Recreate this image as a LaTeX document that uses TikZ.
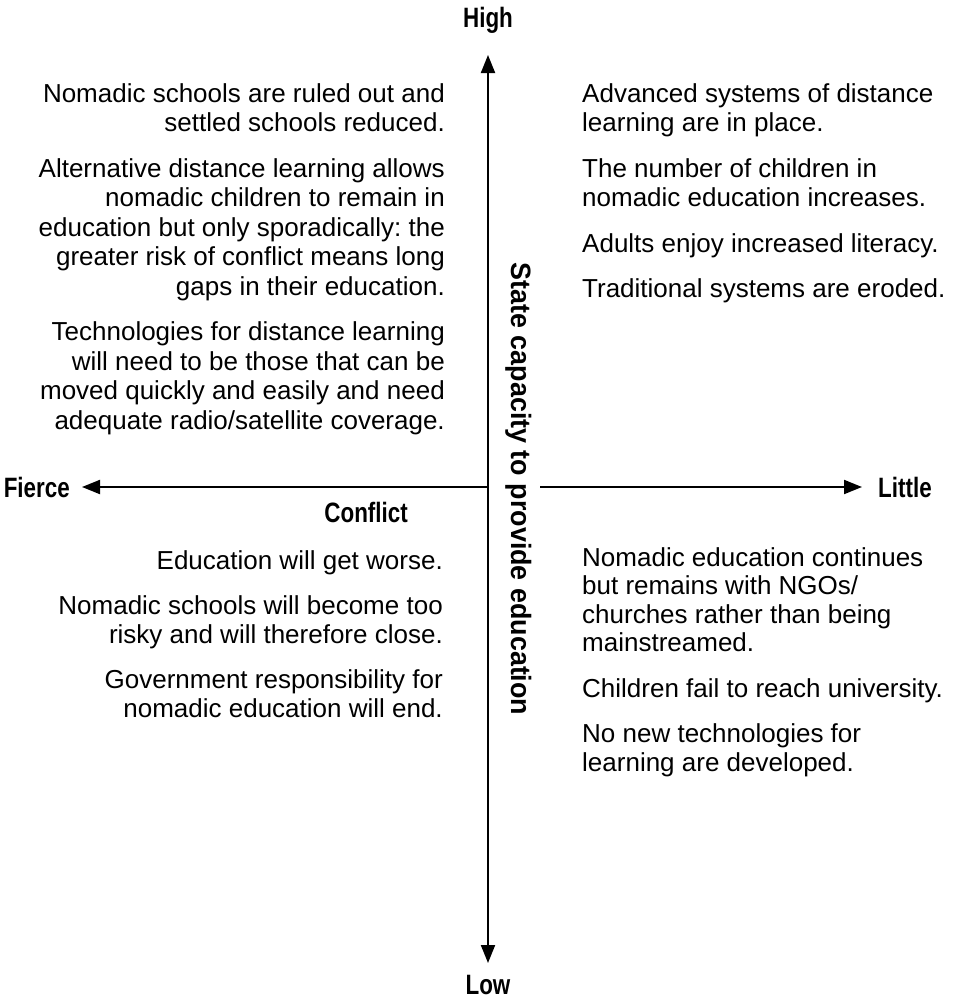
\documentclass[tikz,border=0pt]{standalone}
\usepackage{fontspec}
\setmainfont{Liberation Sans}
\newfontfamily\polefont{Liberation Sans}[FakeStretch=0.8]
\newfontfamily\capfont{Liberation Sans}[FakeStretch=0.96]
\usetikzlibrary{arrows.meta}
\frenchspacing

\begin{document}
\begin{tikzpicture}[x=1pt, y=-1pt]
	\tikzstyle{axis}=[line width=2pt, -{Triangle[length=18pt, width=14pt]}]
	\tikzstyle{pole}=[font=\polefont\bfseries\fontsize{28}{30}\selectfont, inner sep=0pt]
	\tikzstyle{upper}=[font=\fontsize{26}{29.5}\selectfont, inner sep=0pt]
	\tikzstyle{lower}=[font=\fontsize{26}{28.5}\selectfont, inner sep=0pt]

	\useasboundingbox (0, 0) rectangle (955, 999);

	\coordinate (c) at (488, 487);
	\coordinate (n) at (488, 55);
	\coordinate (s) at (488, 963);
	\coordinate (w) at (82, 487);
	\coordinate (e0) at (540, 487);
	\coordinate (e) at (862, 487);

	\draw node[pole, anchor=base] at (488, 27) (high) {High};
	\draw node[pole, anchor=base] at (488, 994) (low) {Low};
	\draw node[pole, anchor=base east] at (70, 497) (fierce) {Fierce};
	\draw node[pole, anchor=base west] at (878, 497) (little) {Little};
	\draw node[pole, anchor=base east] at (408, 522) (conflict) {Conflict};
	\draw node[pole, font=\capfont\bfseries\fontsize{28}{30}\selectfont, rotate=-90, anchor=base] at (511, 489) (capacity) {State capacity to provide education};

	\draw[axis] (c) -- (n);
	\draw[axis] (c) -- (s);
	\draw[axis] (c) -- (w);
	\draw[axis] (e0) -- (e);

	\draw node[upper, align=right, anchor=north east] at (445, 83) (hf) {Nomadic schools are ruled out and\\ settled schools reduced.\\[16pt]
		Alternative distance learning allows\\ nomadic children to remain in\\ education but only sporadically: the\\ greater risk of conflict means long\\ gaps in their education.\\[16pt]
		Technologies for distance learning\\ will need to be those that can be\\ moved quickly and easily and need\\ adequate radio/satellite coverage.};
	\draw node[upper, align=left, anchor=north west] at (582, 83) (hl) {Advanced systems of distance\\ learning are in place.\\[16pt]
		The number of children in\\ nomadic education increases.\\[16pt]
		Adults enjoy increased literacy.\\[16pt]
		Traditional systems are eroded.};
	\draw node[lower, align=right, anchor=north east] at (443, 550) (lf) {Education will get worse.\\[17pt]
		Nomadic schools will become too\\ risky and will therefore close.\\[17pt]
		Government responsibility for\\ nomadic education will end.};
	\draw node[lower, align=left, anchor=north west] at (582, 547) (ll) {Nomadic education continues\\ but remains with NGOs/\\ churches rather than being\\ mainstreamed.\\[17pt]
		Children fail to reach university.\\[17pt]
		No new technologies for\\ learning are developed.};
\end{tikzpicture}
\end{document}
